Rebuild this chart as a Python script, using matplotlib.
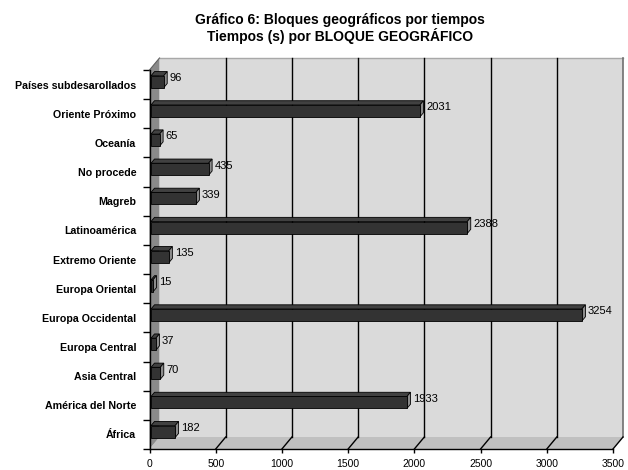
import matplotlib
matplotlib.use("Agg")
import matplotlib.pyplot as plt
from matplotlib.patches import Polygon
import numpy as np

plt.rcParams['font.family'] = ['Liberation Sans', 'DejaVu Sans']

categories = ["África", "América del Norte", "Asia Central", "Europa Central",
              "Europa Occidental", "Europa Oriental", "Extremo Oriente",
              "Latinoamérica", "Magreb", "No procede", "Oceanía",
              "Oriente Próximo", "Países subdesarollados"]
values = [182, 1933, 70, 37, 3254, 15, 135, 2388, 339, 435, 65, 2031, 96]
xticks = [0, 500, 1000, 1500, 2000, 2500, 3000, 3500]
title1 = "Gráfico 6: Bloques geográficos por tiempos"
title2 = "Tiempos (s) por BLOQUE GEOGRÁFICO"

W, H = 628, 470
fig = plt.figure(figsize=(W / 100, H / 100), dpi=100)
x0, x1, yb, yt = 149.5, 613, 449, 70
ax = fig.add_axes([x0 / W, (H - yb) / H, (x1 - x0) / W, (yb - yt) / H])
n = len(categories)
xmax = xticks[-1]
ax.set_xlim(0, xmax)
ax.set_ylim(-0.5, n - 0.5)
ax.set_facecolor('none')
for s in ['top', 'right']:
    ax.spines[s].set_visible(False)
for s in ['bottom', 'left']:
    ax.spines[s].set_color('black')
    ax.spines[s].set_linewidth(1.0)
    ax.spines[s].set_zorder(10)

# depth offset (pixels -> data units)
DXP, DYP = 10, 12
DX = DXP * xmax / (x1 - x0)
DY = DYP * n / (yb - yt)

lo, hi = -0.5, n - 0.5
# back wall
ax.add_patch(Polygon([(DX, lo + DY), (xmax + DX, lo + DY), (xmax + DX, hi + DY), (DX, hi + DY)],
                     closed=True, facecolor='#dadada', edgecolor='none', clip_on=False, zorder=1))
# floor
ax.add_patch(Polygon([(0, lo), (xmax, lo), (xmax + DX, lo + DY), (DX, lo + DY)],
                     closed=True, facecolor='#c0c0c0', edgecolor='none', clip_on=False, zorder=1))
# left wall
ax.add_patch(Polygon([(0, lo), (DX, lo + DY), (DX, hi + DY), (0, hi)],
                     closed=True, facecolor='#8a8a8a', edgecolor='none', clip_on=False, zorder=1))
# back wall top / right edges
ax.plot([DX, xmax + DX], [hi + DY, hi + DY], color='#a8a8a8', lw=1, clip_on=False, zorder=2)
ax.plot([xmax + DX, xmax + DX], [lo + DY, hi + DY], color='#707070', lw=1.2, clip_on=False, zorder=2)
ax.plot([0, DX], [hi, hi + DY], color='#606060', lw=0.8, clip_on=False, zorder=2)
# gridlines on back wall and floor
for v in xticks:
    if 0 < v < xmax:
        ax.plot([v + DX, v + DX], [lo + DY, hi + DY], color='black', lw=1, clip_on=False, zorder=2)
    if v > 0:
        ax.plot([v, v + DX], [lo, lo + DY], color='black', lw=1, clip_on=False, zorder=2)

# bars (3D boxes)
f0, f1 = 0.15, 0.5
bot, top = -0.17, 0.24
for i, v in enumerate(values):
    ax0, ay0 = f0 * DX, f0 * DY
    ax1_, ay1 = f1 * DX, f1 * DY
    yb_, yt_ = i + bot, i + top
    # top face
    ax.add_patch(Polygon([(ax0, yt_ + ay0), (v + ax0, yt_ + ay0), (v + ax1_, yt_ + ay1), (ax1_, yt_ + ay1)],
                         closed=True, facecolor='#414141', edgecolor='black', lw=0.6, clip_on=False, zorder=5))
    # side face
    ax.add_patch(Polygon([(v + ax0, yb_ + ay0), (v + ax1_, yb_ + ay1), (v + ax1_, yt_ + ay1), (v + ax0, yt_ + ay0)],
                         closed=True, facecolor='#8c8c8c', edgecolor='black', lw=0.6, clip_on=False, zorder=5))
    # front face
    ax.add_patch(Polygon([(ax0, yb_ + ay0), (v + ax0, yb_ + ay0), (v + ax0, yt_ + ay0), (ax0, yt_ + ay0)],
                         closed=True, facecolor='#333333', edgecolor='black', lw=0.6, clip_on=False, zorder=6))
    ax.text(v + ax1_ + 2.5 * xmax / (x1 - x0), i + top - 0.02, str(v), fontsize=8, ha='left', va='center',
            color='black', zorder=7, clip_on=False)

# axes ticks
ax.set_xticks(xticks)
ax.set_xticklabels([str(t) for t in xticks], fontsize=7.5)
ax.tick_params(axis='x', direction='out', length=3, width=1, pad=4.5, color='black')
ax.set_yticks(np.arange(-0.5, n, 1.0))
ax.set_yticklabels([])
ax.tick_params(axis='y', which='major', direction='out', length=5, width=1, color='black')
ax.set_yticks(np.arange(n), minor=True)
ax.set_yticklabels(categories, minor=True, fontsize=7.7, fontweight='bold')
ax.tick_params(axis='y', which='minor', length=0, pad=9.5)

fig.text(340 / W, 1 - 24 / H, title1, ha='center', va='baseline', fontsize=10, fontweight='bold')
fig.text(340 / W, 1 - 40.5 / H, title2, ha='center', va='baseline', fontsize=10, fontweight='bold')

fig.savefig("out.png", dpi=100)
